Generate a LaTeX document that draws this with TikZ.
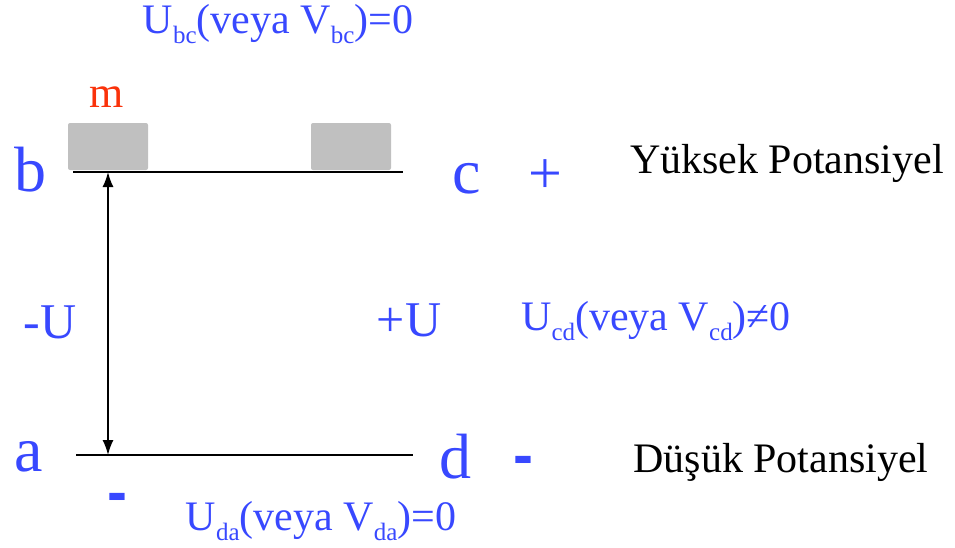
\documentclass[tikz,border=0pt]{standalone}
\usepackage{fontspec}
\usepackage{graphicx}
\setmainfont{Liberation Serif}
\newfontfamily\dashfont{Liberation Sans}
\usepackage{tikz}
\usetikzlibrary{arrows.meta,positioning}
\definecolor{potblue}{RGB}{56,72,255}
\definecolor{massred}{RGB}{250,50,10}
\definecolor{massgray}{RGB}{192,192,192}
\newcommand{\lowtxt}[1]{\raisebox{-0.26em}{\fontsize{25}{25}\selectfont #1}}

\begin{document}
\begin{tikzpicture}[x=1pt, y=-1pt, >={Latex[length=15pt,width=11pt]}]
\useasboundingbox (0,0) rectangle (955,547);
\tikzset{
  corner/.style={inner sep=0pt, text=potblue, font=\fontsize{64}{64}\selectfont},
  sign/.style={inner sep=0pt, text=potblue, font=\fontsize{50}{50}\selectfont},
  formula/.style={inner sep=0pt, anchor=base, text=potblue, font=\fontsize{42}{42}\selectfont},
  level/.style={inner sep=0pt, text=black, font=\fontsize{42}{42}\selectfont},
  minus/.style={inner sep=0pt, text=potblue, font=\dashfont\bfseries\fontsize{60}{60}\selectfont},
  block/.style={fill=massgray, rounded corners=2pt},
  rail/.style={line width=1.8pt}
}

% masses on the upper level
\fill[block] (68,123) rectangle (148,170);
\fill[block] (311,123) rectangle (391,170);
\node[inner sep=0pt, text=massred, font=\fontsize{44}{44}\selectfont] (m) at (107,97) {m};

% the two levels
\coordinate (topL) at (73,172);
\coordinate (topR) at (403,172);
\coordinate (botL) at (76,455);
\coordinate (botR) at (413,455);
\draw[rail] (topL) -- (topR);
\draw[rail] (botL) -- (botR);

\coordinate (arrT) at (108,172);
\coordinate (arrB) at (108,455);
\draw[<->, line width=1.6pt] (arrT) -- (arrB);

% corner letters
\node[corner] (b) at (30,170) {b};
\node[corner] (c) at (467,179) {c};
\node[corner] (a) at (29,457) {a};
\node[corner] (d) at (455,457) {d};

\node[inner sep=0pt, text=potblue, font=\fontsize{60}{60}\selectfont] (plus) at (545,177) {+};
\node[minus] (minusR) at (523,466) {-};
\node[minus] (minusL) at (117,503) {-};

\node[sign] (negU) at (50,322) {-U};
\node[sign] (posU) at (409,320) {+U};

% potential differences
\node[formula] (Ubc) at (278,33) {U\lowtxt{bc}(veya V\lowtxt{bc})=0};
\node[formula] (Ucd) at (656,330) {U\lowtxt{cd}(veya V\lowtxt{cd})≠0};
\node[formula] (Uda) at (321,530) {U\lowtxt{da}(veya V\lowtxt{da})=0};

\node[level] (high) at (787,163) {Yüksek Potansiyel};
\node[level] (low) at (781,462) {Düşük Potansiyel};
\end{tikzpicture}
\end{document}
